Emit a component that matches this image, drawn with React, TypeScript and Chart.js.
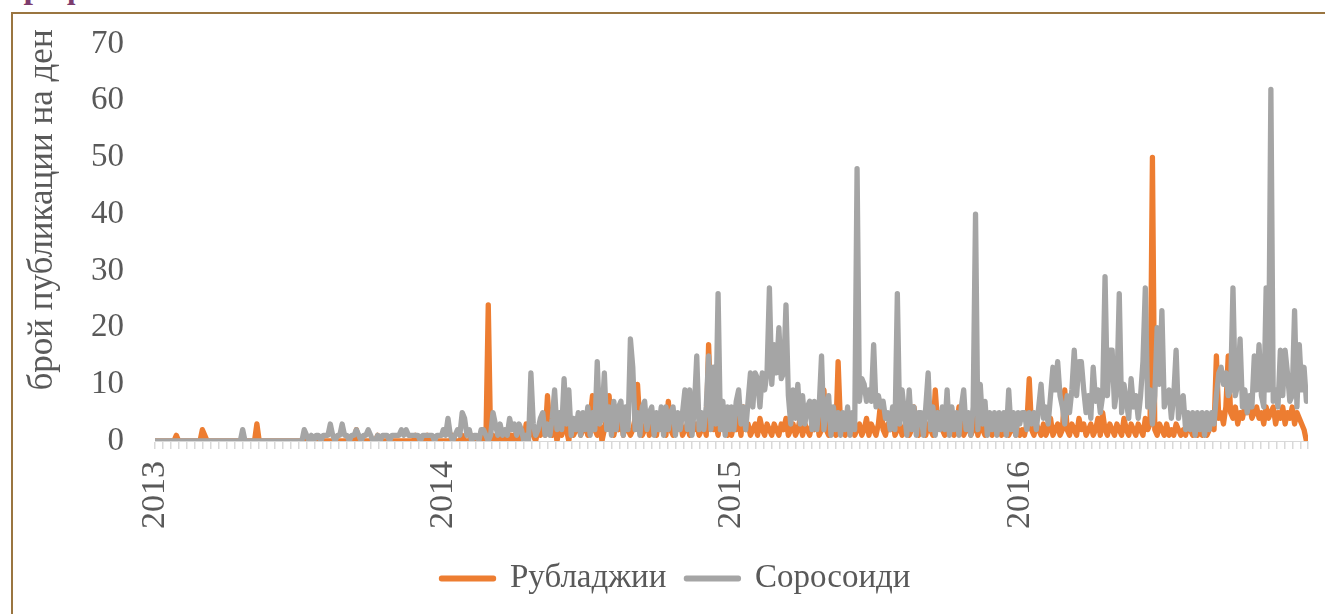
import React, { useEffect, useRef } from "react";
import { Chart, registerables } from "chart.js";

Chart.register(...registerables);

// ---- labels ----
const seriesNames = ["Рубладжии", "Соросоиди"];
const yAxisTitle = "брой публикации на ден";
const yearLabels = ["2013", "2014", "2015", "2016"];
const yearLengths = [365, 365, 365, 366];
const stepDays = 3; // one reading every 3 days
const yMin = 0;
const yMax = 70;
const yStep = 10;

// ---- Рубладжии (orange), readings every 3 days ----
const rub2013 = [
  0, 0, 0, 0, 0, 0, 0, 0, 0, 1,
  0, 0, 0, 0, 0, 0, 0, 0, 0, 0,
  2, 1, 0, 0, 0, 0, 0, 0, 0, 0,
  0, 0, 0, 0, 0, 0, 0, 0, 0, 0,
  0, 0, 0, 3, 0, 0, 0, 0, 0, 0,
  0, 0, 0, 0, 0, 0, 0, 0, 0, 0,
  0, 0, 0, 0, 0, 0, 0, 0, 0, 0,
  0, 0, 0, 0, 0, 0, 0, 0, 0, 0,
  0, 0, 0, 0, 0, 2, 0, 0, 0, 0,
  0, 0, 0, 0, 1, 0, 0, 0, 0, 0,
  0, 0, 0, 0, 0, 0, 0, 0, 0, 0,
  1, 0, 0, 0, 0, 1, 0, 0, 0, 0,
  0, 0,
];
const rub2014 = [
  0, 0, 0, 0, 1, 0, 0, 0, 1, 0,
  0, 0, 1, 0, 0, 0, 0, 1, 0, 24,
  0, 1, 0, 0, 1, 0, 0, 2, 0, 1,
  0, 2, 0, 1, 0, 3, 1, 2, 1, 0,
  2, 1, 3, 1, 8, 2, 1, 3, 0, 2,
  1, 3, 2, 0, 4, 1, 2, 3, 1, 2,
  3, 1, 4, 8, 2, 1, 3, 0, 2, 4,
  8, 2, 1, 3, 2, 4, 1, 3, 2, 1,
  2, 4, 10, 3, 1, 2, 4, 1, 3, 2,
  1, 4, 2, 3, 1, 7, 2, 1, 3, 2,
  4, 1, 2, 3, 1, 4, 2, 3, 1, 2,
  3, 1, 17, 5, 2, 3, 1, 4, 2, 3,
  1, 2,
];
const rub2015 = [
  1, 3, 2, 4, 1, 6, 2, 3, 1, 2,
  3, 1, 4, 2, 1, 3, 2, 1, 3, 2,
  1, 3, 2, 4, 1, 2, 3, 1, 2, 4,
  1, 3, 2, 1, 3, 2, 4, 1, 2, 9,
  2, 1, 3, 2, 1, 14, 3, 2, 1, 3,
  2, 4, 1, 2, 3, 1, 2, 4, 1, 3,
  2, 1, 3, 7, 2, 1, 3, 2, 4, 1,
  2, 3, 1, 2, 4, 1, 2, 6, 3, 1,
  2, 4, 1, 3, 2, 1, 9, 3, 5, 2,
  1, 3, 2, 4, 1, 2, 6, 3, 1, 2,
  3, 1, 2, 4, 1, 3, 2, 1, 3, 2,
  1, 3, 2, 4, 1, 2, 3, 1, 2, 3,
  1, 2,
];
const rub2016 = [
  1, 2, 1, 3, 11, 2, 1, 3, 2, 1,
  3, 1, 2, 4, 1, 2, 3, 1, 2, 9,
  2, 1, 3, 2, 1, 4, 2, 3, 1, 2,
  3, 1, 2, 4, 1, 5, 2, 1, 3, 2,
  1, 3, 2, 1, 4, 2, 1, 3, 2, 1,
  3, 2, 1, 4, 2, 3, 50, 2, 1, 3,
  2, 1, 3, 1, 2, 1, 3, 2, 1, 2,
  1, 3, 2, 1, 2, 1, 3, 1, 2, 1,
  2, 3, 2, 15, 4, 5, 3, 6, 15, 5,
  4, 6, 3, 5, 4, 6, 5, 6, 4, 5,
  6, 4, 5, 3, 6, 4, 5, 6, 3, 5,
  4, 6, 3, 5, 4, 6, 3, 5, 4, 3,
  2, 0,
];

// ---- Соросоиди (gray), readings every 3 days ----
const sor2013 = [
  0, 0, 0, 0, 0, 0, 0, 0, 0, 0,
  0, 0, 0, 0, 0, 0, 0, 0, 0, 0,
  0, 0, 0, 0, 0, 0, 0, 0, 0, 0,
  0, 0, 0, 0, 0, 0, 0, 2, 0, 0,
  0, 0, 0, 0, 0, 0, 0, 0, 0, 0,
  0, 0, 0, 0, 0, 0, 0, 0, 0, 0,
  0, 0, 0, 2, 1, 0, 1, 0, 1, 1,
  0, 1, 1, 1, 3, 1, 0, 1, 1, 3,
  1, 1, 0, 1, 1, 2, 1, 0, 1, 1,
  2, 1, 0, 0, 1, 0, 1, 1, 1, 0,
  1, 1, 1, 1, 2, 1, 2, 1, 1, 1,
  1, 1, 0, 1, 1, 1, 1, 1, 0, 1,
  1, 1,
];
const sor2014 = [
  2, 1, 4, 1, 0, 1, 2, 1, 5, 4,
  1, 2, 0, 1, 1, 0, 2, 2, 1, 0,
  1, 5, 3, 1, 3, 1, 2, 1, 4, 2,
  3, 1, 3, 2, 0, 1, 0, 12, 3, 1,
  2, 4, 5, 1, 3, 1, 4, 9, 2, 5,
  2, 11, 3, 9, 1, 4, 2, 5, 1, 5,
  2, 6, 1, 5, 2, 14, 3, 4, 12, 2,
  6, 1, 7, 2, 6, 7, 1, 6, 2, 18,
  13, 2, 5, 1, 6, 7, 2, 5, 6, 1,
  5, 2, 6, 1, 6, 2, 5, 6, 1, 5,
  2, 5, 9, 2, 9, 1, 6, 15, 2, 5,
  2, 6, 15, 2, 13, 3, 26, 2, 7, 1,
  6, 2,
];
const sor2015 = [
  6, 2, 7, 9, 3, 6, 2, 7, 12, 6,
  12, 11, 6, 12, 9, 12, 27, 10, 17, 12,
  20, 11, 12, 24, 8, 3, 9, 4, 10, 3,
  8, 3, 6, 7, 2, 7, 2, 6, 15, 2,
  6, 8, 1, 6, 2, 5, 1, 5, 2, 6,
  1, 5, 2, 48, 7, 11, 10, 7, 9, 7,
  17, 6, 8, 6, 7, 4, 5, 2, 6, 2,
  26, 3, 9, 5, 1, 9, 2, 6, 1, 5,
  5, 1, 6, 12, 2, 6, 1, 5, 2, 6,
  2, 9, 1, 6, 2, 5, 1, 6, 9, 2,
  5, 1, 6, 40, 2, 10, 3, 7, 1, 5,
  2, 5, 1, 5, 2, 5, 1, 9, 2, 5,
  1, 5,
];
const sor2016 = [
  3, 5, 5, 2, 5, 3, 5, 2, 6, 10,
  4, 6, 3, 8, 13, 9, 14, 8, 6, 3,
  8, 5, 9, 16, 8, 14, 14, 9, 5, 8,
  4, 13, 7, 9, 5, 8, 29, 8, 16, 16,
  6, 9, 26, 5, 10, 7, 4, 11, 6, 8,
  4, 8, 14, 27, 6, 9, 3, 8, 20, 10,
  23, 6, 8, 9, 4, 8, 16, 4, 7, 8,
  2, 5, 2, 5, 1, 5, 2, 5, 1, 5,
  2, 5, 3, 8, 12, 13, 10, 12, 8, 9,
  27, 8, 10, 18, 6, 9, 5, 8, 6, 15,
  9, 17, 8, 6, 27, 9, 62, 7, 9, 6,
  16, 8, 16, 12, 7, 8, 23, 6, 17, 9,
  13, 7,
];

const rubByYear = [rub2013, rub2014, rub2015, rub2016];
const sorByYear = [sor2013, sor2014, sor2015, sor2016];

const ORANGE = "#ED7D31";
const GRAY = "#A5A5A5";
const TEXT = "#595959";
const FONT = "'Liberation Serif', 'Times New Roman', serif";

function yearStarts(): number[] {
  const s: number[] = [];
  let acc = 0;
  for (const len of yearLengths) {
    s.push(acc);
    acc += len;
  }
  return s;
}

function toPoints(byYear: number[][]) {
  const starts = yearStarts();
  const pts: { x: number; y: number }[] = [];
  byYear.forEach((vals, yi) => {
    vals.forEach((v, k) => pts.push({ x: starts[yi] + k * stepDays, y: v }));
  });
  return pts;
}

const yTitlePlugin = {
  id: "yTitle",
  afterDraw(chart: any) {
    const ctx = chart.ctx;
    ctx.save();
    ctx.translate(52, 210);
    ctx.rotate(-Math.PI / 2);
    ctx.font = `35px ${FONT}`;
    ctx.fillStyle = TEXT;
    ctx.textAlign = "center";
    ctx.textBaseline = "alphabetic";
    ctx.fillText(yAxisTitle, 0, 0);
    ctx.restore();
  },
};

export default function App() {
  const ref = useRef<HTMLCanvasElement | null>(null);

  useEffect(() => {
    if (!ref.current) return;
    const starts = yearStarts();
    const lastDay = starts[starts.length - 1] + yearLengths[yearLengths.length - 1] - 1;
    const tickValues: number[] = [];
    starts.forEach((s, i) => {
      const len = yearLengths[i];
      for (let k = 0; k < 36; k++) tickValues.push(s + (k * len) / 36);
    });
    tickValues.push(lastDay);

    const chart = new Chart(ref.current, {
      type: "line",
      data: {
        datasets: [
          {
            label: seriesNames[1],
            data: toPoints(sorByYear),
            borderColor: GRAY,
            backgroundColor: GRAY,
            borderWidth: 5.3,
            pointRadius: 0,
            borderJoinStyle: "round",
            borderCapStyle: "round",
            tension: 0,
          },
          {
            label: seriesNames[0],
            data: toPoints(rubByYear),
            borderColor: ORANGE,
            backgroundColor: ORANGE,
            borderWidth: 5.3,
            pointRadius: 0,
            borderJoinStyle: "round",
            borderCapStyle: "round",
            tension: 0,
          },
        ],
      },
      options: {
        animation: false,
        responsive: false,
        maintainAspectRatio: false,
        layout: { padding: { top: 44, right: 17, left: 44, bottom: 9 } },
        plugins: {
          legend: {
            position: "bottom",
            reverse: true,
            labels: {
              boxWidth: 52,
              boxHeight: 0.5,
              padding: 20,
              color: TEXT,
              font: { family: FONT, size: 33 },
            },
          },
          tooltip: { enabled: false },
        },
        scales: {
          x: {
            type: "linear",
            min: 0,
            max: lastDay,
            afterBuildTicks: (scale: any) => {
              scale.ticks = tickValues.map((v) => ({ value: v }));
            },
            afterFit: (scale: any) => {
              scale.height = 101;
              scale.paddingLeft = 0;
              scale.paddingRight = 0;
            },
            ticks: {
              autoSkip: false,
              minRotation: 90,
              maxRotation: 90,
              padding: 12,
              color: TEXT,
              font: { family: FONT, size: 34 },
              callback: (value: any) => {
                const idx = starts.findIndex((s) => Math.abs(s - Number(value)) < 0.01);
                return idx >= 0 ? yearLabels[idx] : "";
              },
            },
            grid: {
              drawOnChartArea: false,
              drawTicks: true,
              tickLength: 8,
              color: "#d9d9d9",
              lineWidth: 1.5,
            },
            border: { display: true, color: "#d9d9d9", width: 1 },
          },
          y: {
            min: yMin,
            max: yMax,
            afterFit: (scale: any) => {
              scale.width = 111;
              scale.paddingTop = 0;
              scale.paddingBottom = 0;
            },
            ticks: {
              stepSize: yStep,
              padding: 31,
              color: TEXT,
              font: { family: FONT, size: 33 },
            },
            grid: { display: false, drawTicks: false },
            border: { display: false },
          },
        },
      },
      plugins: [yTitlePlugin],
    } as any);

    return () => chart.destroy();
  }, []);

  return (
    <div
      style={{
        position: "absolute",
        left: 0,
        top: 0,
        width: 1325,
        height: 614,
        overflow: "hidden",
        background: "#ffffff",
      }}
    >
      <div
        style={{
          position: "absolute",
          left: 4,
          top: -30,
          fontFamily: FONT,
          fontWeight: "bold",
          fontSize: 34,
          lineHeight: "34px",
          color: "#7D3C6E",
          whiteSpace: "nowrap",
        }}
      >
        Графика 1.
      </div>
      <div
        style={{
          position: "absolute",
          left: 11,
          top: 12,
          width: 1400,
          height: 700,
          borderTop: "2px solid #9a7540",
          borderLeft: "2px solid #9a7540",
        }}
      />
      <canvas
        ref={ref}
        width={1325}
        height={614}
        style={{ position: "absolute", left: 0, top: 0, width: 1325, height: 614 }}
      />
    </div>
  );
}
